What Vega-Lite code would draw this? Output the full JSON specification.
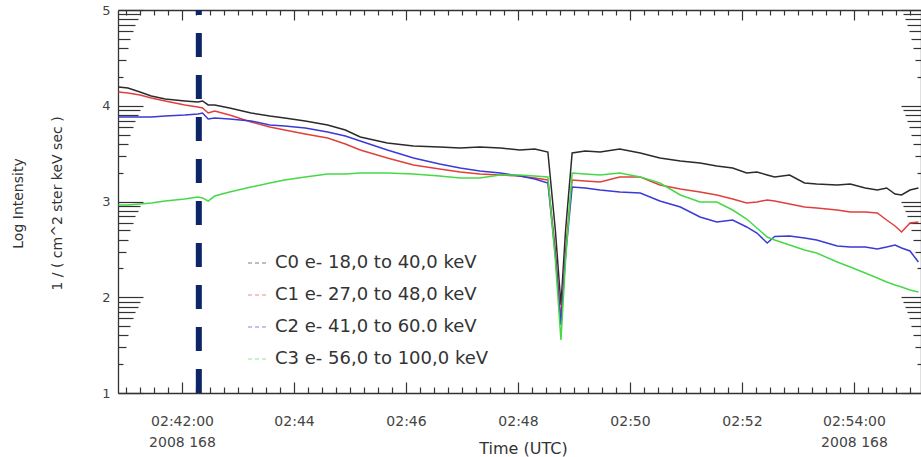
{
  "$schema": "https://vega.github.io/schema/vega-lite/v6.json",
  "width": 803,
  "height": 383,
  "autosize": {"type": "none"},
  "padding": {"left": 118, "top": 10, "right": 0, "bottom": 64},
  "background": "white",
  "config": {
    "view": {"stroke": null},
    "font": "DejaVu Sans",
    "axis": {
      "domainColor": "#333333",
      "domainWidth": 1.3,
      "ticks": false,
      "tickSize": 0,
      "gridColor": "#333333",
      "gridWidth": 1.2,
      "gridOpacity": 1,
      "gridCap": "butt",
      "labelFont": "DejaVu Sans",
      "titleFont": "DejaVu Sans",
      "labelColor": "#444444",
      "titleColor": "#333333",
      "titleFontWeight": "normal"
    }
  },
  "datasets": {
    "flux": [
      {"t": "2008-06-16T02:40:52Z", "C0": 4.196, "C1": 4.144, "C2": 3.883, "C3": 2.963},
      {"t": "2008-06-16T02:41:02Z", "C0": 4.185, "C1": 4.133, "C2": 3.883, "C3": 2.963},
      {"t": "2008-06-16T02:41:15Z", "C0": 4.144, "C1": 4.112, "C2": 3.883, "C3": 2.974},
      {"t": "2008-06-16T02:41:27Z", "C0": 4.102, "C1": 4.081, "C2": 3.883, "C3": 2.984},
      {"t": "2008-06-16T02:41:42Z", "C0": 4.070, "C1": 4.050, "C2": 3.893, "C3": 3.005},
      {"t": "2008-06-16T02:42:03Z", "C0": 4.050, "C1": 4.008, "C2": 3.903, "C3": 3.026},
      {"t": "2008-06-16T02:42:17Z", "C0": 4.039, "C1": 3.987, "C2": 3.914, "C3": 3.047},
      {"t": "2008-06-16T02:42:22Z", "C0": 4.050, "C1": 3.977, "C2": 3.924, "C3": 3.037},
      {"t": "2008-06-16T02:42:28Z", "C0": 4.008, "C1": 3.924, "C2": 3.862, "C3": 3.005},
      {"t": "2008-06-16T02:42:35Z", "C0": 4.008, "C1": 3.945, "C2": 3.872, "C3": 3.057},
      {"t": "2008-06-16T02:42:51Z", "C0": 3.977, "C1": 3.903, "C2": 3.862, "C3": 3.099},
      {"t": "2008-06-16T02:43:14Z", "C0": 3.924, "C1": 3.830, "C2": 3.841, "C3": 3.151},
      {"t": "2008-06-16T02:43:34Z", "C0": 3.893, "C1": 3.778, "C2": 3.799, "C3": 3.193},
      {"t": "2008-06-16T02:43:50Z", "C0": 3.872, "C1": 3.747, "C2": 3.789, "C3": 3.225},
      {"t": "2008-06-16T02:44:12Z", "C0": 3.841, "C1": 3.705, "C2": 3.768, "C3": 3.256},
      {"t": "2008-06-16T02:44:36Z", "C0": 3.799, "C1": 3.663, "C2": 3.726, "C3": 3.287},
      {"t": "2008-06-16T02:44:55Z", "C0": 3.747, "C1": 3.601, "C2": 3.684, "C3": 3.287},
      {"t": "2008-06-16T02:45:11Z", "C0": 3.674, "C1": 3.538, "C2": 3.632, "C3": 3.298},
      {"t": "2008-06-16T02:45:40Z", "C0": 3.611, "C1": 3.454, "C2": 3.538, "C3": 3.298},
      {"t": "2008-06-16T02:46:08Z", "C0": 3.580, "C1": 3.381, "C2": 3.454, "C3": 3.287},
      {"t": "2008-06-16T02:46:36Z", "C0": 3.569, "C1": 3.339, "C2": 3.392, "C3": 3.266},
      {"t": "2008-06-16T02:46:58Z", "C0": 3.559, "C1": 3.308, "C2": 3.350, "C3": 3.245},
      {"t": "2008-06-16T02:47:19Z", "C0": 3.569, "C1": 3.287, "C2": 3.319, "C3": 3.245},
      {"t": "2008-06-16T02:47:41Z", "C0": 3.559, "C1": 3.277, "C2": 3.298, "C3": 3.277},
      {"t": "2008-06-16T02:48:02Z", "C0": 3.538, "C1": 3.266, "C2": 3.266, "C3": 3.277},
      {"t": "2008-06-16T02:48:18Z", "C0": 3.548, "C1": 3.245, "C2": 3.235, "C3": 3.266},
      {"t": "2008-06-16T02:48:32Z", "C0": 3.517, "C1": 3.225, "C2": 3.193, "C3": 3.256},
      {"t": "2008-06-16T02:48:40Z", "C0": 2.702, "C1": 2.493, "C2": 2.441, "C3": 2.389},
      {"t": "2008-06-16T02:48:46Z", "C0": 1.919, "C1": 1.762, "C2": 1.710, "C3": 1.554},
      {"t": "2008-06-16T02:48:51Z", "C0": 2.702, "C1": 2.493, "C2": 2.441, "C3": 2.389},
      {"t": "2008-06-16T02:48:58Z", "C0": 3.507, "C1": 3.225, "C2": 3.151, "C3": 3.298},
      {"t": "2008-06-16T02:49:12Z", "C0": 3.527, "C1": 3.214, "C2": 3.141, "C3": 3.287},
      {"t": "2008-06-16T02:49:28Z", "C0": 3.517, "C1": 3.204, "C2": 3.120, "C3": 3.277},
      {"t": "2008-06-16T02:49:49Z", "C0": 3.548, "C1": 3.256, "C2": 3.099, "C3": 3.298},
      {"t": "2008-06-16T02:50:11Z", "C0": 3.507, "C1": 3.256, "C2": 3.089, "C3": 3.256},
      {"t": "2008-06-16T02:50:32Z", "C0": 3.454, "C1": 3.172, "C2": 3.005, "C3": 3.193},
      {"t": "2008-06-16T02:50:54Z", "C0": 3.423, "C1": 3.131, "C2": 2.943, "C3": 3.068},
      {"t": "2008-06-16T02:51:15Z", "C0": 3.402, "C1": 3.099, "C2": 2.838, "C3": 2.995},
      {"t": "2008-06-16T02:51:33Z", "C0": 3.371, "C1": 3.068, "C2": 2.786, "C3": 2.995},
      {"t": "2008-06-16T02:51:50Z", "C0": 3.350, "C1": 3.026, "C2": 2.807, "C3": 2.911},
      {"t": "2008-06-16T02:52:05Z", "C0": 3.298, "C1": 2.984, "C2": 2.734, "C3": 2.817},
      {"t": "2008-06-16T02:52:16Z", "C0": 3.308, "C1": 2.995, "C2": 2.671, "C3": 2.723},
      {"t": "2008-06-16T02:52:27Z", "C0": 3.277, "C1": 3.016, "C2": 2.567, "C3": 2.629},
      {"t": "2008-06-16T02:52:35Z", "C0": 3.256, "C1": 3.005, "C2": 2.634, "C3": 2.598},
      {"t": "2008-06-16T02:52:51Z", "C0": 3.277, "C1": 2.974, "C2": 2.640, "C3": 2.546},
      {"t": "2008-06-16T02:53:07Z", "C0": 3.193, "C1": 2.943, "C2": 2.619, "C3": 2.493},
      {"t": "2008-06-16T02:53:20Z", "C0": 3.183, "C1": 2.932, "C2": 2.598, "C3": 2.462},
      {"t": "2008-06-16T02:53:42Z", "C0": 3.172, "C1": 2.911, "C2": 2.535, "C3": 2.368},
      {"t": "2008-06-16T02:53:56Z", "C0": 3.183, "C1": 2.890, "C2": 2.525, "C3": 2.316},
      {"t": "2008-06-16T02:54:12Z", "C0": 3.141, "C1": 2.890, "C2": 2.525, "C3": 2.253},
      {"t": "2008-06-16T02:54:25Z", "C0": 3.120, "C1": 2.880, "C2": 2.504, "C3": 2.201},
      {"t": "2008-06-16T02:54:35Z", "C0": 3.141, "C1": 2.807, "C2": 2.525, "C3": 2.159},
      {"t": "2008-06-16T02:54:44Z", "C0": 3.078, "C1": 2.744, "C2": 2.546, "C3": 2.128},
      {"t": "2008-06-16T02:54:51Z", "C0": 3.068, "C1": 2.681, "C2": 2.514, "C3": 2.107},
      {"t": "2008-06-16T02:55:00Z", "C0": 3.120, "C1": 2.775, "C2": 2.483, "C3": 2.076},
      {"t": "2008-06-16T02:55:09Z", "C0": 3.141, "C1": 2.786, "C2": 2.368, "C3": 2.055}
    ]
  },
  "layer": [
    {
      "data": {"name": "flux"},
      "transform": [{"fold": ["C0", "C1", "C2", "C3"], "as": ["ch", "v"]}],
      "mark": {"type": "line", "strokeWidth": 1.5},
      "encoding": {
        "x": {
          "field": "t",
          "type": "temporal",
          "scale": {
            "type": "utc",
            "domain": [
              {"year": 2008, "month": 6, "date": 16, "hours": 2, "minutes": 40, "seconds": 51, "milliseconds": 400, "utc": true},
              {"year": 2008, "month": 6, "date": 16, "hours": 2, "minutes": 55, "seconds": 11, "milliseconds": 800, "utc": true}
            ]
          },
          "axis": {
            "orient": "bottom",
            "values": {"expr": "sequence(utc(2008, 5, 16, 2, 41, 0), utc(2008, 5, 16, 2, 55, 1), 15000)"},
            "grid": true,
            "gridDash": {"condition": {"test": "utcseconds(datum.value) == 0 && utcminutes(datum.value) % 2 == 0", "value": [10, 2000]}, "value": [5, 2000]},
            "labelExpr": "(utcseconds(datum.value) == 0 && utcminutes(datum.value) % 2 == 0) ? ((utcminutes(datum.value) == 42 || utcminutes(datum.value) == 54) ? [utcFormat(datum.value, '%H:%M:%S'), '2008 168'] : utcFormat(datum.value, '%H:%M')) : ''",
            "labelOverlap": false,
            "labelFlush": false,
            "labelBound": false,
            "labelBaseline": "top",
            "labelPadding": 21,
            "labelLineHeight": 21,
            "labelFontSize": 14,
            "title": "Time (UTC)",
            "titleFontSize": 16,
            "titleX": 405,
            "titleY": 55,
            "titleBaseline": "middle",
            "titleAlign": "center"
          }
        },
        "y": {
          "field": "v",
          "type": "quantitative",
          "scale": {"domain": [1, 5], "nice": false, "zero": false},
          "axis": {
            "orient": "left",
            "values": [1, 1.30103, 1.47712, 1.60206, 1.69897, 1.77815, 1.8451, 1.90309, 1.95424, 2, 2.30103, 2.47712, 2.60206, 2.69897, 2.77815, 2.8451, 2.90309, 2.95424, 3, 3.30103, 3.47712, 3.60206, 3.69897, 3.77815, 3.8451, 3.90309, 3.95424, 4, 4.30103, 4.47712, 4.60206, 4.69897, 4.77815, 4.8451, 4.90309, 4.95424, 5],
            "grid": true,
            "gridDash": {
              "condition": [
                {"test": "abs(datum.value - round(datum.value)) < 0.001", "value": [25, 2000]},
                {"test": "datum.value - floor(datum.value) > 0.93", "value": [22, 2000]},
                {"test": "datum.value - floor(datum.value) > 0.88", "value": [20, 2000]},
                {"test": "datum.value - floor(datum.value) > 0.8", "value": [17, 2000]},
                {"test": "datum.value - floor(datum.value) > 0.75", "value": [15, 2000]},
                {"test": "datum.value - floor(datum.value) > 0.65", "value": [12, 2000]},
                {"test": "datum.value - floor(datum.value) > 0.55", "value": [10, 2000]},
                {"test": "datum.value - floor(datum.value) > 0.4", "value": [8, 2000]}
              ],
              "value": [5, 2000]
            },
            "labelExpr": "abs(datum.value - round(datum.value)) < 0.001 ? format(datum.value, 'd') : ''",
            "labelOverlap": false,
            "labelFlush": false,
            "labelBound": false,
            "labelPadding": 8,
            "labelFontSize": 13,
            "title": ["Log Intensity", "1 / ( cm^2 ster keV sec )"],
            "titleFontSize": 14,
            "titleLineHeight": 39,
            "titleAngle": -90,
            "titleX": -100,
            "titleY": 193,
            "titleAlign": "center",
            "titleBaseline": "middle"
          }
        },
        "color": {
          "field": "ch",
          "type": "nominal",
          "scale": {"domain": ["C0", "C1", "C2", "C3"], "range": ["#2b2b2b", "#e0403c", "#3a3ad6", "#47d847"]},
          "legend": {
            "orient": "none",
            "legendX": 129,
            "legendY": 242,
            "direction": "vertical",
            "title": null,
            "padding": 0,
            "symbolType": "stroke",
            "symbolSize": 400,
            "symbolStrokeWidth": 1.2,
            "symbolDash": [4, 3],
            "symbolOpacity": 0.6,
            "labelFont": "DejaVu Sans",
            "labelFontSize": 18,
            "labelLimit": 400,
            "labelColor": "#333333",
            "labelOffset": 6,
            "rowPadding": 12,
            "labelExpr": "datum.label == 'C0' ? 'C0 e- 18,0 to 40,0 keV' : datum.label == 'C1' ? 'C1 e- 27,0 to 48,0 keV' : datum.label == 'C2' ? 'C2 e- 41,0 to 60.0 keV' : 'C3 e- 56,0 to 100,0 keV'"
          }
        }
      }
    },
    {
      "data": {"values": [{"t": "2008-06-16T02:42:18Z", "lo": 1, "hi": 5}]},
      "mark": {"type": "rule", "color": "#0b2566", "strokeWidth": 6, "strokeDash": [24, 18]},
      "encoding": {
        "x": {
          "field": "t",
          "type": "temporal",
          "axis": {
            "orient": "top",
            "values": {"expr": "sequence(utc(2008, 5, 16, 2, 41, 0), utc(2008, 5, 16, 2, 55, 1), 15000)"},
            "grid": true,
            "gridDash": {"condition": {"test": "utcseconds(datum.value) == 0 && utcminutes(datum.value) % 2 == 0", "value": [11, 2000]}, "value": [6, 2000]},
            "labels": false,
            "title": null
          }
        },
        "y": {
          "field": "lo",
          "type": "quantitative",
          "axis": {
            "orient": "right",
            "values": [1, 1.30103, 1.47712, 1.60206, 1.69897, 1.77815, 1.8451, 1.90309, 1.95424, 2, 2.30103, 2.47712, 2.60206, 2.69897, 2.77815, 2.8451, 2.90309, 2.95424, 3, 3.30103, 3.47712, 3.60206, 3.69897, 3.77815, 3.8451, 3.90309, 3.95424, 4, 4.30103, 4.47712, 4.60206, 4.69897, 4.77815, 4.8451, 4.90309, 4.95424, 5],
            "grid": true,
            "gridDash": {
              "condition": [
                {"test": "abs(datum.value - round(datum.value)) < 0.001", "value": [20, 2000]},
                {"test": "datum.value - floor(datum.value) > 0.93", "value": [18, 2000]},
                {"test": "datum.value - floor(datum.value) > 0.88", "value": [16, 2000]},
                {"test": "datum.value - floor(datum.value) > 0.8", "value": [14, 2000]},
                {"test": "datum.value - floor(datum.value) > 0.75", "value": [12, 2000]},
                {"test": "datum.value - floor(datum.value) > 0.65", "value": [10, 2000]},
                {"test": "datum.value - floor(datum.value) > 0.55", "value": [8, 2000]},
                {"test": "datum.value - floor(datum.value) > 0.4", "value": [6, 2000]}
              ],
              "value": [4, 2000]
            },
            "labels": false,
            "title": null
          }
        },
        "y2": {"field": "hi"}
      }
    }
  ],
  "resolve": {"axis": {"x": "independent", "y": "independent"}}
}
